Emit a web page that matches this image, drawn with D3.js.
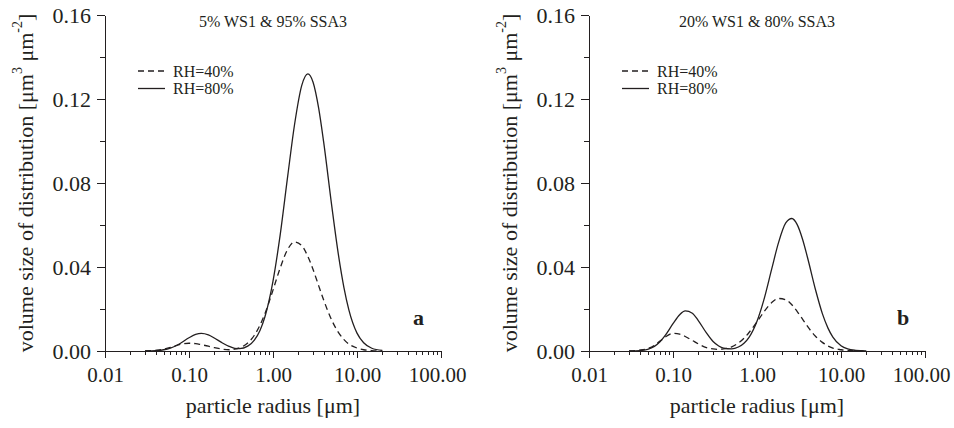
<!DOCTYPE html>
<html>
<head>
<meta charset="utf-8">
<script src="https://cdn.jsdelivr.net/npm/d3@7"></script>
<style>
body { margin: 0; background: #fff; }
svg text { font-family: "Liberation Serif", "Times New Roman", serif; fill: #231f20; }
.axis path, .axis line { stroke: #231f20; stroke-width: 1; shape-rendering: crispEdges; }
.curve { fill: none; stroke: #231f20; stroke-width: 1.3; }
</style>
</head>
<body>
<div id="chart"></div>
<script>
// particle radius [um], shared by all curves
var radius = [0.03, 0.04, 0.05, 0.06, 0.07, 0.08, 0.1, 0.12, 0.14, 0.17, 0.2, 0.25, 0.3, 0.35, 0.4, 0.5, 0.6, 0.7, 0.8,
    1.0, 1.2, 1.5, 1.8, 2.2, 2.6, 3.0, 3.5, 4.0, 5.0, 6.0, 7.0, 8.0, 10, 12, 15, 20];

// panel a: 5% WS1 & 95% SSA3
var rh40a = [0.0000, 0.0003, 0.0009, 0.0017, 0.0026, 0.0032, 0.0037, 0.0035, 0.0030, 0.0023, 0.0016, 0.0009, 0.0006, 0.0009, 0.0015, 0.0038, 0.0075, 0.0123, 0.0177,
    0.0290, 0.0388, 0.0485, 0.0519, 0.0502, 0.0450, 0.0388, 0.0310, 0.0244, 0.0147, 0.0089, 0.0054, 0.0033, 0.0014, 0.0006, 0.0002, 0.0000];
var rh80a = [0.0000, 0.0002, 0.0006, 0.0014, 0.0025, 0.0038, 0.0063, 0.0079, 0.0084, 0.0077, 0.0062, 0.0038, 0.0022, 0.0013, 0.0011, 0.0023, 0.0052, 0.0098, 0.0162,
    0.0333, 0.0535, 0.0836, 0.1075, 0.1265, 0.1320, 0.1280, 0.1155, 0.0998, 0.0692, 0.0460, 0.0301, 0.0196, 0.0085, 0.0039, 0.0013, 0.0003];

// panel b: 20% WS1 & 80% SSA3
var rh40b = [0.0000, 0.0004, 0.0012, 0.0027, 0.0047, 0.0065, 0.0084, 0.0080, 0.0069, 0.0050, 0.0034, 0.0016, 0.0010, 0.0008, 0.0010, 0.0020, 0.0038, 0.0061, 0.0087,
    0.0139, 0.0185, 0.0231, 0.0250, 0.0244, 0.0220, 0.0189, 0.0151, 0.0117, 0.0069, 0.0041, 0.0024, 0.0014, 0.0006, 0.0002, 0.0001, 0.0000];
var rh80b = [0.0000, 0.0002, 0.0008, 0.0022, 0.0044, 0.0072, 0.0130, 0.0173, 0.0191, 0.0180, 0.0145, 0.0086, 0.0045, 0.0024, 0.0014, 0.0010, 0.0019, 0.0037, 0.0064,
    0.0142, 0.0240, 0.0392, 0.0515, 0.0610, 0.0631, 0.0603, 0.0530, 0.0444, 0.0288, 0.0178, 0.0109, 0.0066, 0.0025, 0.0010, 0.0003, 0.0000];

var panelTitles = ["5% WS1 & 95% SSA3", "20% WS1 & 80% SSA3"];
var panelLetters = ["a", "b"];
var seriesNames = ["RH=40%", "RH=80%"];
var seriesDash = ["6,4", null];
var xTicks = [0.01, 0.1, 1, 10, 100];
var xMinorTicks = [];
[0.01, 0.1, 1, 10].forEach(function (d) {
    for (var k = 2; k <= 9; k++) xMinorTicks.push(+(k * d).toPrecision(2));
});
var yTicks = [0, 0.04, 0.08, 0.12, 0.16];
var yMinorTicks = [0.02, 0.06, 0.10, 0.14];

var svg = d3.select("#chart").append("svg")
    .attr("width", 954)
    .attr("height", 428);

drawPanel(105, [rh40a, rh80a], 0);
drawPanel(589, [rh40b, rh80b], 1);

function drawPanel(left, series, idx) {
    var top = 15, width = 336, height = 336;

    var x = d3.scaleLog().domain([0.01, 100]).range([0, width]);
    var y = d3.scaleLinear().domain([0, 0.16]).range([height, 0]);

    var g = svg.append("g")
        .attr("transform", "translate(" + left + "," + top + ")");

    // minor ticks first so the main axis draws on top
    g.append("g")
        .attr("class", "axis")
        .attr("transform", "translate(0," + height + ")")
        .call(d3.axisBottom(x).tickValues(xMinorTicks).tickSize(3.5).tickSizeOuter(0).tickFormat(""))
        .select(".domain").remove();

    g.append("g")
        .attr("class", "axis")
        .call(d3.axisLeft(y).tickValues(yMinorTicks).tickSize(5).tickSizeOuter(0).tickFormat(""))
        .select(".domain").remove();

    var xAxis = g.append("g")
        .attr("class", "axis")
        .attr("transform", "translate(0," + height + ")")
        .call(d3.axisBottom(x).tickValues(xTicks).tickSize(7).tickSizeOuter(0).tickPadding(9)
            .tickFormat(d3.format(".2f")));
    xAxis.selectAll("text").style("font-size", "21px");
    // last label sits a little left of its tick, as in the original
    xAxis.selectAll("text").filter(function (d) { return d === 100; }).attr("dx", -4);

    var yAxis = g.append("g")
        .attr("class", "axis")
        .call(d3.axisLeft(y).tickValues(yTicks).tickSize(8).tickSizeOuter(0).tickPadding(6)
            .tickFormat(d3.format(".2f")));
    yAxis.selectAll("text").style("font-size", "22px");

    // axis titles
    g.append("text")
        .attr("x", width / 2)
        .attr("y", 398)
        .attr("text-anchor", "middle")
        .style("font-size", "22px")
        .text("particle radius [\u03bcm]");

    var yt = g.append("text")
        .attr("transform", "translate(-80," + (height / 2) + ") rotate(-90)")
        .attr("text-anchor", "middle")
        .attr("dominant-baseline", "central")
        .style("font-size", "22px");
    yt.append("tspan").text("volume size of distribution [\u03bcm");
    yt.append("tspan").attr("dy", -8).style("font-size", "14px").text("3");
    yt.append("tspan").attr("dy", 8).text(" \u03bcm");
    yt.append("tspan").attr("dy", -8).style("font-size", "14px").text("-2");
    yt.append("tspan").attr("dy", 8).text("]");

    // curves
    var line = d3.line()
        .curve(d3.curveMonotoneX)
        .x(function (d) { return x(d[0]); })
        .y(function (d) { return y(d[1]); });

    series.forEach(function (vals, i) {
        g.append("path")
            .attr("class", "curve")
            .attr("d", line(radius.map(function (r, j) { return [r, vals[j]]; })))
            .attr("stroke-dasharray", seriesDash[i]);
    });

    // title
    g.append("text")
        .attr("x", width / 2)
        .attr("y", 12)
        .attr("text-anchor", "middle")
        .style("font-size", "16px")
        .text(panelTitles[idx]);

    // legend
    var leg = g.append("g").attr("transform", "translate(33,56)");
    seriesNames.forEach(function (name, i) {
        var row = leg.append("g").attr("transform", "translate(0," + (i * 17.5) + ")");
        row.append("line")
            .attr("class", "curve")
            .attr("x1", 0).attr("x2", 27)
            .attr("y1", 0).attr("y2", 0)
            .attr("stroke-dasharray", seriesDash[i]);
        row.append("text")
            .attr("x", 35)
            .attr("y", 5.5)
            .style("font-size", "16px")
            .text(name);
    });

    // panel letter
    g.append("text")
        .attr("x", width - 28)
        .attr("y", 310)
        .style("font-size", "22px")
        .style("font-weight", "bold")
        .text(panelLetters[idx]);
}
</script>
</body>
</html>
